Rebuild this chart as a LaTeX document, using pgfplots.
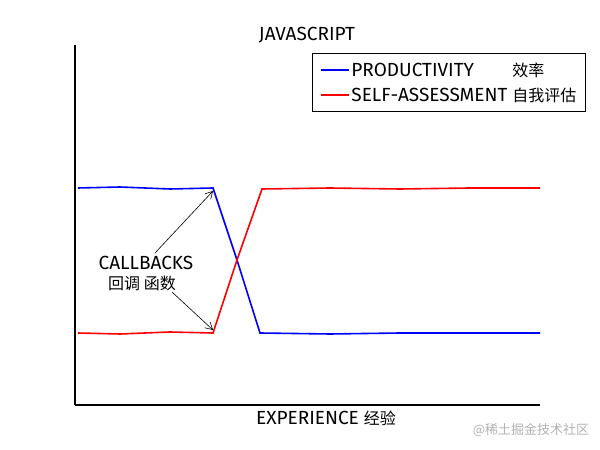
\documentclass[border=0pt]{standalone}
\usepackage{pgfplots}
\pgfplotsset{compat=1.18}
\usetikzlibrary{arrows.meta}
\usepackage{fontspec}
\setmainfont{Fira Sans}
\newfontfamily\cjk{Noto Sans CJK SC}
\begin{document}
\begin{tikzpicture}[x=1pt,y=1pt]
\path (0,0) rectangle (600,450);
\begin{axis}[
  at={(75pt,45pt)}, anchor=south west,
  scale only axis, width=465pt, height=360pt,
  xmin=75, xmax=540, ymin=45, ymax=405,
  axis x line=bottom, axis y line=left,
  axis line style={-, line width=1.3pt, black},
  xtick=\empty, ytick=\empty,
  clip=false,
  legend style={at={(1.0989,0.9778)}, anchor=north east, draw=black, line width=1.1pt,
    font=\fontsize{19}{21}\selectfont, cells={anchor=west}, inner xsep=7pt, inner ysep=7pt, row sep=6pt},
  legend image code/.code={\draw[#1, line width=1.6pt] (0pt,0pt) -- (28pt,0pt);},
]
\addplot[blue, line width=1.6pt] coordinates {(78,262)(120,263)(170,261)(213,262)(237,190)(260,117)(330,116)(400,117)(470,117)(540,117)};
\addlegendentry{\makebox[161pt][l]{PRODUCTIVITY}{\fontsize{16}{21}\selectfont\cjk 效率}}
\addplot[red, line width=1.6pt] coordinates {(78,117)(120,116)(170,118)(213,117)(237,190)(262,261)(330,262)(400,261)(470,262)(540,262)};
\addlegendentry{\makebox[161pt][l]{SELF-ASSESSMENT}{\fontsize{16}{21}\selectfont\cjk 自我评估}}
\draw[-{Straight Barb[length=7pt,width=8pt]}, line width=0.6pt] (axis cs:155,197) -- (axis cs:213,259);
\draw[-{Straight Barb[length=7pt,width=8pt]}, line width=0.6pt] (axis cs:172,158) -- (axis cs:213,120);
\end{axis}
\node[font=\fontsize{19}{21}\selectfont, inner sep=0pt] at (146,187) {CALLBACKS};
\node[font=\fontsize{16}{18}\selectfont\cjk, inner sep=0pt] at (142,167) {回调 函数};
\node[font=\fontsize{19}{21}\selectfont] at (307,415) {JAVASCRIPT};
\node[font=\fontsize{19}{21}\selectfont] at (326,32) {EXPERIENCE {\fontsize{16}{18}\selectfont\cjk 经验}};
\node[font=\fontsize{13}{15}\selectfont\cjk, text=black!30] at (531,20) {@稀土掘金技术社区};
\end{tikzpicture}
\end{document}
